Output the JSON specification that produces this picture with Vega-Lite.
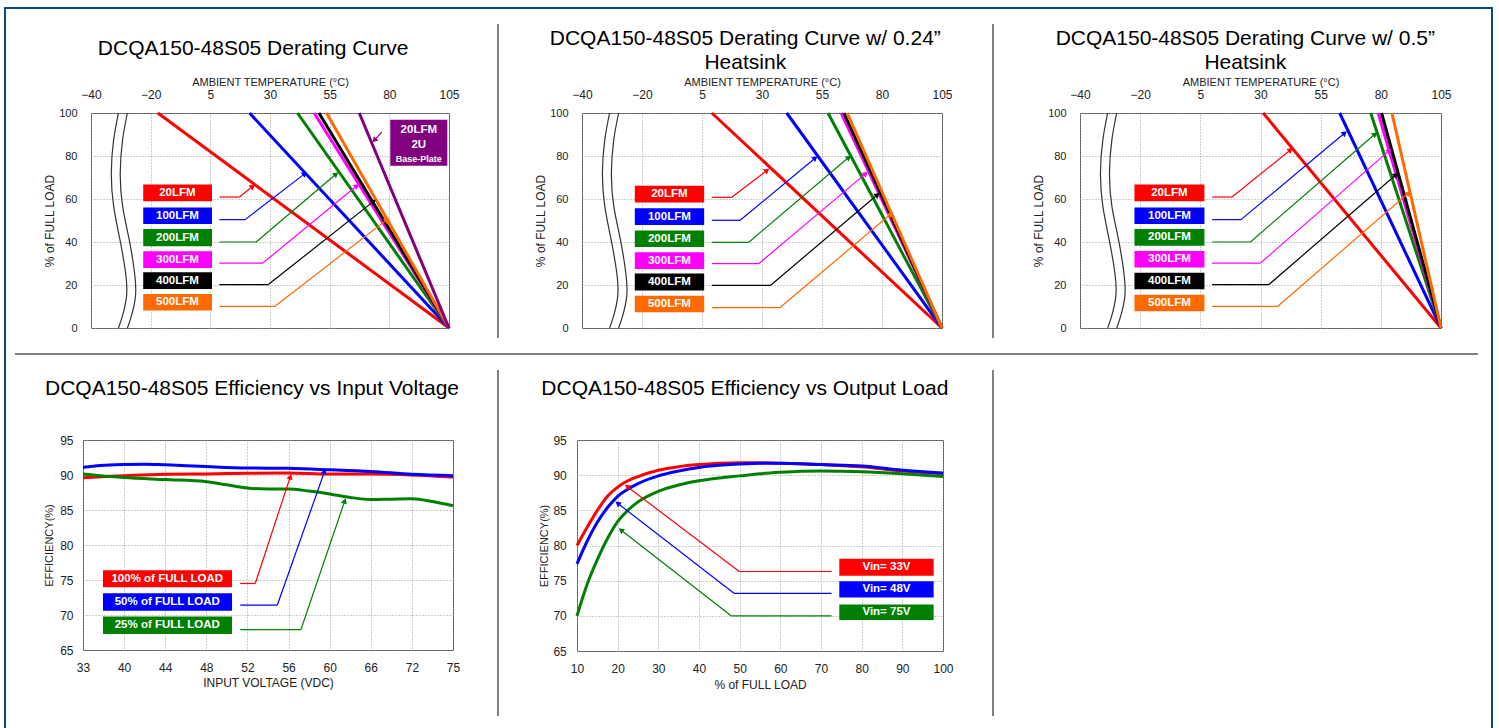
{
"$schema": "https://vega.github.io/schema/vega-lite/v6.json",
"padding": {"left": 4, "top": 7, "right": 0, "bottom": 0},
"background": "white",
"config": {
  "view": {"stroke": null},
  "concat": {"spacing": 0},
  "font": "Liberation Sans",
  "point": {"size": 0, "strokeWidth": 0},
  "title": {"font": "Liberation Sans", "fontSize": 21, "fontWeight": "normal", "color": "#000000", "lineHeight": 24, "anchor": "middle"},
  "axis": {"labelFont": "Liberation Sans", "titleFont": "Liberation Sans", "labelColor": "#222222", "titleColor": "#222222", "titleFontWeight": "normal", "domain": false, "ticks": false, "tickSize": 0, "grid": true, "gridColor": "#9a9a9a", "gridDash": [1, 2], "labelFlush": false, "labelOverlap": false},
  "text": {"font": "Liberation Sans"}
},
"datasets": {
  "brk": [
    {"part": "A", "x": -30.8, "x2": -27.8, "y": 100}, {"part": "A", "x": -32.4, "x2": -29.4, "y": 87.6}, {"part": "A", "x": -33.2, "x2": -30.2, "y": 72.1}, {"part": "A", "x": -32.4, "x2": -29.4, "y": 56.6}, {"part": "A", "x": -30.3, "x2": -27.2, "y": 41.1}, {"part": "A", "x": -28.4, "x2": -25.4, "y": 25.6}, {"part": "A", "x": -28.1, "x2": -25.1, "y": 14.7}, {"part": "A", "x": -29.5, "x2": -26.5, "y": 5.4}, {"part": "A", "x": -30.8, "x2": -27.8, "y": 0},
    {"part": "L", "x": -30.8, "y": 100}, {"part": "L", "x": -32.4, "y": 87.6}, {"part": "L", "x": -33.2, "y": 72.1}, {"part": "L", "x": -32.4, "y": 56.6}, {"part": "L", "x": -30.3, "y": 41.1}, {"part": "L", "x": -28.4, "y": 25.6}, {"part": "L", "x": -28.1, "y": 14.7}, {"part": "L", "x": -29.5, "y": 5.4}, {"part": "L", "x": -30.8, "y": 0},
    {"part": "R", "x": -27.8, "y": 100}, {"part": "R", "x": -29.4, "y": 87.6}, {"part": "R", "x": -30.2, "y": 72.1}, {"part": "R", "x": -29.4, "y": 56.6}, {"part": "R", "x": -27.2, "y": 41.1}, {"part": "R", "x": -25.4, "y": 25.6}, {"part": "R", "x": -25.1, "y": 14.7}, {"part": "R", "x": -26.5, "y": 5.4}, {"part": "R", "x": -27.8, "y": 0}
  ],
  "d1": [
    {"kind": "curve", "s": "20LFM", "x": -17, "y": 100}, {"kind": "curve", "s": "20LFM", "x": 105, "y": 0},
    {"kind": "curve", "s": "100LFM", "x": 21.4, "y": 100}, {"kind": "curve", "s": "100LFM", "x": 105, "y": 0},
    {"kind": "curve", "s": "200LFM", "x": 41.5, "y": 100}, {"kind": "curve", "s": "200LFM", "x": 105, "y": 0},
    {"kind": "curve", "s": "300LFM", "x": 48.5, "y": 100}, {"kind": "curve", "s": "300LFM", "x": 105, "y": 0},
    {"kind": "curve", "s": "400LFM", "x": 50.5, "y": 100}, {"kind": "curve", "s": "400LFM", "x": 105, "y": 0},
    {"kind": "curve", "s": "500LFM", "x": 53.7, "y": 100}, {"kind": "curve", "s": "500LFM", "x": 105, "y": 0},
    {"kind": "curve", "s": "BP", "x": 67.4, "y": 100}, {"kind": "curve", "s": "BP", "x": 105, "y": 0},
    {"kind": "box", "s": "20LFM", "x": -22.5, "x2": 5.7, "y": 58.9, "y2": 66.7},
    {"kind": "box", "s": "100LFM", "x": -22.5, "x2": 5.7, "y": 48.4, "y2": 56.1},
    {"kind": "box", "s": "200LFM", "x": -22.5, "x2": 5.7, "y": 38.0, "y2": 46.0},
    {"kind": "box", "s": "300LFM", "x": -22.5, "x2": 5.7, "y": 27.9, "y2": 35.7},
    {"kind": "box", "s": "400LFM", "x": -22.5, "x2": 5.7, "y": 18.1, "y2": 25.9},
    {"kind": "box", "s": "500LFM", "x": -22.5, "x2": 5.7, "y": 8.1, "y2": 15.8},
    {"kind": "box", "s": "BP", "x": 80.4, "x2": 104.3, "y": 75.5, "y2": 96.9},
    {"kind": "label", "s": "20LFM", "x": -8.8, "y": 62.8, "text": "20LFM"},
    {"kind": "label", "s": "100LFM", "x": -8.8, "y": 52.2, "text": "100LFM"},
    {"kind": "label", "s": "200LFM", "x": -8.8, "y": 42.0, "text": "200LFM"},
    {"kind": "label", "s": "300LFM", "x": -8.8, "y": 31.8, "text": "300LFM"},
    {"kind": "label", "s": "400LFM", "x": -8.8, "y": 22.0, "text": "400LFM"},
    {"kind": "label", "s": "500LFM", "x": -8.8, "y": 12.0, "text": "500LFM"},
    {"kind": "label", "s": "BP", "x": 92.35, "y": 92.2, "text": "20LFM"},
    {"kind": "label", "s": "BP", "x": 92.35, "y": 85.3, "text": "2U"},
    {"kind": "small", "s": "BP", "x": 92.35, "y": 78.6, "text": "Base-Plate"},
    {"kind": "lead", "s": "20LFM", "x": 8.8, "y": 60.9, "x2": 17.2, "y2": 60.9},
    {"kind": "tip", "s": "20LFM", "x": 22.8, "y": 65.9, "x2": 17.2, "y2": 60.9},
    {"kind": "lead", "s": "100LFM", "x": 8.8, "y": 50.4, "x2": 19.6, "y2": 50.4},
    {"kind": "tip", "s": "100LFM", "x": 44.6, "y": 71.8, "x2": 19.6, "y2": 50.4},
    {"kind": "lead", "s": "200LFM", "x": 8.8, "y": 40.0, "x2": 24.2, "y2": 40.0},
    {"kind": "tip", "s": "200LFM", "x": 57.7, "y": 71.6, "x2": 24.2, "y2": 40.0},
    {"kind": "lead", "s": "300LFM", "x": 8.8, "y": 30.2, "x2": 27.0, "y2": 30.2},
    {"kind": "tip", "s": "300LFM", "x": 66.4, "y": 66.2, "x2": 27.0, "y2": 30.2},
    {"kind": "lead", "s": "400LFM", "x": 8.8, "y": 20.2, "x2": 29.3, "y2": 20.2},
    {"kind": "tip", "s": "400LFM", "x": 73.4, "y": 58.9, "x2": 29.3, "y2": 20.2},
    {"kind": "lead", "s": "500LFM", "x": 8.8, "y": 10.1, "x2": 32.1, "y2": 10.1},
    {"kind": "tip", "s": "500LFM", "x": 79.0, "y": 50.4, "x2": 32.1, "y2": 10.1},
    {"kind": "tip", "s": "BP", "x": 73.7, "y": 87.3, "x2": 76.9, "y2": 91.2}
  ],
  "d2": [
    {"kind": "curve", "s": "20LFM", "x": 9.1, "y": 100}, {"kind": "curve", "s": "20LFM", "x": 105, "y": 0},
    {"kind": "curve", "s": "100LFM", "x": 40.3, "y": 100}, {"kind": "curve", "s": "100LFM", "x": 105, "y": 0},
    {"kind": "curve", "s": "200LFM", "x": 57.5, "y": 100}, {"kind": "curve", "s": "200LFM", "x": 105, "y": 0},
    {"kind": "curve", "s": "300LFM", "x": 63.0, "y": 100}, {"kind": "curve", "s": "300LFM", "x": 105, "y": 0},
    {"kind": "curve", "s": "400LFM", "x": 64.1, "y": 100}, {"kind": "curve", "s": "400LFM", "x": 105, "y": 0},
    {"kind": "curve", "s": "500LFM", "x": 65.5, "y": 100}, {"kind": "curve", "s": "500LFM", "x": 105, "y": 0},
    {"kind": "box", "s": "20LFM", "x": -22.4, "x2": 5.9, "y": 58.4, "y2": 66.2},
    {"kind": "box", "s": "100LFM", "x": -22.4, "x2": 5.9, "y": 47.9, "y2": 55.7},
    {"kind": "box", "s": "200LFM", "x": -22.4, "x2": 5.9, "y": 37.7, "y2": 45.4},
    {"kind": "box", "s": "300LFM", "x": -22.4, "x2": 5.9, "y": 27.4, "y2": 35.2},
    {"kind": "box", "s": "400LFM", "x": -22.4, "x2": 5.9, "y": 17.5, "y2": 25.3},
    {"kind": "box", "s": "500LFM", "x": -22.4, "x2": 5.9, "y": 7.3, "y2": 15.0},
    {"kind": "label", "s": "20LFM", "x": -8.6, "y": 62.3, "text": "20LFM"},
    {"kind": "label", "s": "100LFM", "x": -8.6, "y": 51.8, "text": "100LFM"},
    {"kind": "label", "s": "200LFM", "x": -8.6, "y": 41.6, "text": "200LFM"},
    {"kind": "label", "s": "300LFM", "x": -8.6, "y": 31.3, "text": "300LFM"},
    {"kind": "label", "s": "400LFM", "x": -8.6, "y": 21.4, "text": "400LFM"},
    {"kind": "label", "s": "500LFM", "x": -8.6, "y": 11.2, "text": "500LFM"},
    {"kind": "lead", "s": "20LFM", "x": 9.1, "y": 60.8, "x2": 17.4, "y2": 60.8},
    {"kind": "tip", "s": "20LFM", "x": 32.1, "y": 73.3, "x2": 17.4, "y2": 60.8},
    {"kind": "lead", "s": "100LFM", "x": 9.1, "y": 50.1, "x2": 20.9, "y2": 50.1},
    {"kind": "tip", "s": "100LFM", "x": 52.2, "y": 79.1, "x2": 20.9, "y2": 50.1},
    {"kind": "lead", "s": "200LFM", "x": 9.1, "y": 39.8, "x2": 24.4, "y2": 39.8},
    {"kind": "tip", "s": "200LFM", "x": 66.2, "y": 79.4, "x2": 24.4, "y2": 39.8},
    {"kind": "lead", "s": "300LFM", "x": 9.1, "y": 29.9, "x2": 28.6, "y2": 29.9},
    {"kind": "tip", "s": "300LFM", "x": 73.2, "y": 71.8, "x2": 28.6, "y2": 29.9},
    {"kind": "lead", "s": "400LFM", "x": 9.1, "y": 19.8, "x2": 33.5, "y2": 19.8},
    {"kind": "tip", "s": "400LFM", "x": 78.1, "y": 62.0, "x2": 33.5, "y2": 19.8},
    {"kind": "lead", "s": "500LFM", "x": 9.1, "y": 9.5, "x2": 37.5, "y2": 9.5},
    {"kind": "tip", "s": "500LFM", "x": 83.7, "y": 53.0, "x2": 37.5, "y2": 9.5}
  ],
  "d3": [
    {"kind": "curve", "s": "20LFM", "x": 31.1, "y": 100}, {"kind": "curve", "s": "20LFM", "x": 105, "y": 0},
    {"kind": "curve", "s": "100LFM", "x": 62.9, "y": 100}, {"kind": "curve", "s": "100LFM", "x": 105, "y": 0},
    {"kind": "curve", "s": "200LFM", "x": 75.8, "y": 100}, {"kind": "curve", "s": "200LFM", "x": 105, "y": 0},
    {"kind": "curve", "s": "300LFM", "x": 78.9, "y": 100}, {"kind": "curve", "s": "300LFM", "x": 105, "y": 0},
    {"kind": "curve", "s": "400LFM", "x": 80.3, "y": 100}, {"kind": "curve", "s": "400LFM", "x": 105, "y": 0},
    {"kind": "curve", "s": "500LFM", "x": 84.6, "y": 100}, {"kind": "curve", "s": "500LFM", "x": 105, "y": 0},
    {"kind": "box", "s": "20LFM", "x": -21.9, "x2": 6.7, "y": 58.9, "y2": 66.7},
    {"kind": "box", "s": "100LFM", "x": -21.9, "x2": 6.7, "y": 48.4, "y2": 56.1},
    {"kind": "box", "s": "200LFM", "x": -21.9, "x2": 6.7, "y": 38.3, "y2": 46.0},
    {"kind": "box", "s": "300LFM", "x": -21.9, "x2": 6.7, "y": 28.1, "y2": 35.8},
    {"kind": "box", "s": "400LFM", "x": -21.9, "x2": 6.7, "y": 18.0, "y2": 25.7},
    {"kind": "box", "s": "500LFM", "x": -21.9, "x2": 6.7, "y": 7.8, "y2": 15.5},
    {"kind": "label", "s": "20LFM", "x": -7.85, "y": 62.8, "text": "20LFM"},
    {"kind": "label", "s": "100LFM", "x": -7.85, "y": 52.2, "text": "100LFM"},
    {"kind": "label", "s": "200LFM", "x": -7.85, "y": 42.2, "text": "200LFM"},
    {"kind": "label", "s": "300LFM", "x": -7.85, "y": 31.9, "text": "300LFM"},
    {"kind": "label", "s": "400LFM", "x": -7.85, "y": 21.9, "text": "400LFM"},
    {"kind": "label", "s": "500LFM", "x": -7.85, "y": 11.6, "text": "500LFM"},
    {"kind": "lead", "s": "20LFM", "x": 9.9, "y": 60.9, "x2": 18.2, "y2": 60.9},
    {"kind": "tip", "s": "20LFM", "x": 42.5, "y": 82.9, "x2": 18.2, "y2": 60.9},
    {"kind": "lead", "s": "100LFM", "x": 9.9, "y": 50.4, "x2": 21.9, "y2": 50.4},
    {"kind": "tip", "s": "100LFM", "x": 65.0, "y": 90.7, "x2": 21.9, "y2": 50.4},
    {"kind": "lead", "s": "200LFM", "x": 9.9, "y": 40.0, "x2": 25.8, "y2": 40.0},
    {"kind": "tip", "s": "200LFM", "x": 77.6, "y": 90.2, "x2": 25.8, "y2": 40.0},
    {"kind": "lead", "s": "300LFM", "x": 9.9, "y": 30.2, "x2": 30.0, "y2": 30.2},
    {"kind": "tip", "s": "300LFM", "x": 83.5, "y": 82.5, "x2": 30.0, "y2": 30.2},
    {"kind": "lead", "s": "400LFM", "x": 9.9, "y": 20.2, "x2": 33.5, "y2": 20.2},
    {"kind": "tip", "s": "400LFM", "x": 86.3, "y": 71.3, "x2": 33.5, "y2": 20.2},
    {"kind": "lead", "s": "500LFM", "x": 9.9, "y": 10.1, "x2": 37.2, "y2": 10.1},
    {"kind": "tip", "s": "500LFM", "x": 91.5, "y": 62.8, "x2": 37.2, "y2": 10.1}
  ],
  "d4": [
    {"kind": "curve", "s": "100%", "x": 33, "y": 89.6}, {"kind": "curve", "s": "100%", "x": 36, "y": 89.75}, {"kind": "curve", "s": "100%", "x": 40, "y": 89.9}, {"kind": "curve", "s": "100%", "x": 44, "y": 90.1}, {"kind": "curve", "s": "100%", "x": 48, "y": 90.15}, {"kind": "curve", "s": "100%", "x": 52, "y": 90.25}, {"kind": "curve", "s": "100%", "x": 56, "y": 90.3}, {"kind": "curve", "s": "100%", "x": 60, "y": 90.15}, {"kind": "curve", "s": "100%", "x": 66, "y": 90.15}, {"kind": "curve", "s": "100%", "x": 72, "y": 90.0}, {"kind": "curve", "s": "100%", "x": 75, "y": 89.7},
    {"kind": "curve", "s": "50%", "x": 33, "y": 91.1}, {"kind": "curve", "s": "50%", "x": 36, "y": 91.35}, {"kind": "curve", "s": "50%", "x": 40, "y": 91.5}, {"kind": "curve", "s": "50%", "x": 42, "y": 91.55}, {"kind": "curve", "s": "50%", "x": 44, "y": 91.45}, {"kind": "curve", "s": "50%", "x": 48, "y": 91.2}, {"kind": "curve", "s": "50%", "x": 52, "y": 91.0}, {"kind": "curve", "s": "50%", "x": 56, "y": 90.95}, {"kind": "curve", "s": "50%", "x": 60, "y": 90.75}, {"kind": "curve", "s": "50%", "x": 66, "y": 90.5}, {"kind": "curve", "s": "50%", "x": 72, "y": 90.1}, {"kind": "curve", "s": "50%", "x": 75, "y": 89.9},
    {"kind": "curve", "s": "25%", "x": 33, "y": 90.15}, {"kind": "curve", "s": "25%", "x": 36, "y": 89.9}, {"kind": "curve", "s": "25%", "x": 40, "y": 89.65}, {"kind": "curve", "s": "25%", "x": 44, "y": 89.35}, {"kind": "curve", "s": "25%", "x": 48, "y": 89.05}, {"kind": "curve", "s": "25%", "x": 50, "y": 88.6}, {"kind": "curve", "s": "25%", "x": 52, "y": 88.15}, {"kind": "curve", "s": "25%", "x": 54, "y": 88.0}, {"kind": "curve", "s": "25%", "x": 56, "y": 88.0}, {"kind": "curve", "s": "25%", "x": 58, "y": 87.7}, {"kind": "curve", "s": "25%", "x": 60, "y": 87.3}, {"kind": "curve", "s": "25%", "x": 63, "y": 86.8}, {"kind": "curve", "s": "25%", "x": 66, "y": 86.5}, {"kind": "curve", "s": "25%", "x": 69, "y": 86.55}, {"kind": "curve", "s": "25%", "x": 72, "y": 86.6}, {"kind": "curve", "s": "25%", "x": 73.5, "y": 86.2}, {"kind": "curve", "s": "25%", "x": 75, "y": 85.6},
    {"kind": "box", "s": "100%", "x": 36.4, "x2": 50.5, "y": 73.95, "y2": 76.4},
    {"kind": "box", "s": "50%", "x": 36.4, "x2": 50.5, "y": 70.6, "y2": 73.1},
    {"kind": "box", "s": "25%", "x": 36.4, "x2": 50.5, "y": 67.3, "y2": 69.8},
    {"kind": "label", "s": "100%", "x": 44.2, "y": 75.2, "text": "100% of FULL LOAD"},
    {"kind": "label", "s": "50%", "x": 44.2, "y": 71.85, "text": "50% of FULL LOAD"},
    {"kind": "label", "s": "25%", "x": 44.2, "y": 68.55, "text": "25% of FULL LOAD"},
    {"kind": "lead", "s": "100%", "x": 51.3, "y": 74.5, "x2": 52.76, "y2": 74.5},
    {"kind": "tip", "s": "100%", "x": 56.17, "y": 89.76, "x2": 52.76, "y2": 74.5},
    {"kind": "lead", "s": "50%", "x": 51.3, "y": 71.4, "x2": 54.9, "y2": 71.4},
    {"kind": "tip", "s": "50%", "x": 59.5, "y": 90.5, "x2": 54.9, "y2": 71.4},
    {"kind": "lead", "s": "25%", "x": 51.3, "y": 67.9, "x2": 57.2, "y2": 67.9},
    {"kind": "tip", "s": "25%", "x": 62.2, "y": 86.3, "x2": 57.2, "y2": 67.9}
  ],
  "d5": [
    {"kind": "curve", "s": "33V", "x": 10, "y": 80.0}, {"kind": "curve", "s": "33V", "x": 12.5, "y": 82.6}, {"kind": "curve", "s": "33V", "x": 15, "y": 85.0}, {"kind": "curve", "s": "33V", "x": 17.5, "y": 87.0}, {"kind": "curve", "s": "33V", "x": 20, "y": 88.3}, {"kind": "curve", "s": "33V", "x": 22.5, "y": 89.2}, {"kind": "curve", "s": "33V", "x": 25, "y": 89.8}, {"kind": "curve", "s": "33V", "x": 30, "y": 90.7}, {"kind": "curve", "s": "33V", "x": 35, "y": 91.2}, {"kind": "curve", "s": "33V", "x": 40, "y": 91.5}, {"kind": "curve", "s": "33V", "x": 45, "y": 91.7}, {"kind": "curve", "s": "33V", "x": 50, "y": 91.75}, {"kind": "curve", "s": "33V", "x": 55, "y": 91.75}, {"kind": "curve", "s": "33V", "x": 60, "y": 91.7}, {"kind": "curve", "s": "33V", "x": 70, "y": 91.5}, {"kind": "curve", "s": "33V", "x": 80, "y": 91.2}, {"kind": "curve", "s": "33V", "x": 90, "y": 90.6}, {"kind": "curve", "s": "33V", "x": 100, "y": 90.2},
    {"kind": "curve", "s": "48V", "x": 10, "y": 77.4}, {"kind": "curve", "s": "48V", "x": 12.5, "y": 80.6}, {"kind": "curve", "s": "48V", "x": 15, "y": 83.3}, {"kind": "curve", "s": "48V", "x": 17.5, "y": 85.4}, {"kind": "curve", "s": "48V", "x": 20, "y": 87.0}, {"kind": "curve", "s": "48V", "x": 22.5, "y": 88.0}, {"kind": "curve", "s": "48V", "x": 25, "y": 88.8}, {"kind": "curve", "s": "48V", "x": 30, "y": 89.9}, {"kind": "curve", "s": "48V", "x": 35, "y": 90.6}, {"kind": "curve", "s": "48V", "x": 40, "y": 91.1}, {"kind": "curve", "s": "48V", "x": 45, "y": 91.4}, {"kind": "curve", "s": "48V", "x": 50, "y": 91.6}, {"kind": "curve", "s": "48V", "x": 55, "y": 91.7}, {"kind": "curve", "s": "48V", "x": 60, "y": 91.7}, {"kind": "curve", "s": "48V", "x": 70, "y": 91.5}, {"kind": "curve", "s": "48V", "x": 80, "y": 91.3}, {"kind": "curve", "s": "48V", "x": 90, "y": 90.7}, {"kind": "curve", "s": "48V", "x": 100, "y": 90.3},
    {"kind": "curve", "s": "75V", "x": 10, "y": 70.0}, {"kind": "curve", "s": "75V", "x": 12.5, "y": 74.5}, {"kind": "curve", "s": "75V", "x": 15, "y": 78.0}, {"kind": "curve", "s": "75V", "x": 17.5, "y": 81.0}, {"kind": "curve", "s": "75V", "x": 20, "y": 83.4}, {"kind": "curve", "s": "75V", "x": 22.5, "y": 85.0}, {"kind": "curve", "s": "75V", "x": 25, "y": 86.2}, {"kind": "curve", "s": "75V", "x": 30, "y": 87.7}, {"kind": "curve", "s": "75V", "x": 35, "y": 88.6}, {"kind": "curve", "s": "75V", "x": 40, "y": 89.2}, {"kind": "curve", "s": "75V", "x": 45, "y": 89.6}, {"kind": "curve", "s": "75V", "x": 50, "y": 89.9}, {"kind": "curve", "s": "75V", "x": 55, "y": 90.2}, {"kind": "curve", "s": "75V", "x": 60, "y": 90.4}, {"kind": "curve", "s": "75V", "x": 65, "y": 90.55}, {"kind": "curve", "s": "75V", "x": 70, "y": 90.6}, {"kind": "curve", "s": "75V", "x": 80, "y": 90.5}, {"kind": "curve", "s": "75V", "x": 90, "y": 90.2}, {"kind": "curve", "s": "75V", "x": 100, "y": 89.8},
    {"kind": "box", "s": "33V", "x": 74.5, "x2": 97.7, "y": 75.7, "y2": 78.1},
    {"kind": "box", "s": "48V", "x": 74.5, "x2": 97.7, "y": 72.6, "y2": 74.9},
    {"kind": "box", "s": "75V", "x": 74.5, "x2": 97.7, "y": 69.4, "y2": 71.6},
    {"kind": "label", "s": "33V", "x": 86.1, "y": 76.9, "text": "Vin= 33V"},
    {"kind": "label", "s": "48V", "x": 86.1, "y": 73.75, "text": "Vin= 48V"},
    {"kind": "label", "s": "75V", "x": 86.1, "y": 70.5, "text": "Vin= 75V"},
    {"kind": "lead", "s": "33V", "x": 72.6, "y": 76.3, "x2": 49.9, "y2": 76.3},
    {"kind": "tip", "s": "33V", "x": 22.3, "y": 88.4, "x2": 49.9, "y2": 76.3},
    {"kind": "lead", "s": "48V", "x": 72.6, "y": 73.2, "x2": 48.6, "y2": 73.2},
    {"kind": "tip", "s": "48V", "x": 20.0, "y": 86.0, "x2": 48.6, "y2": 73.2},
    {"kind": "lead", "s": "75V", "x": 72.6, "y": 70.0, "x2": 47.9, "y2": 70.0},
    {"kind": "tip", "s": "75V", "x": 20.8, "y": 82.2, "x2": 47.9, "y2": 70.0}
  ]
},
"spacing": 0,
"vconcat": [
  {"width": 1489, "height": 2, "data": {"values": [{}]}, "mark": {"type": "point", "opacity": 0, "size": 0, "strokeWidth": 0}, "encoding": {}, "view": {"fill": "#0b4a7d", "stroke": null}},
  {"spacing": 0, "hconcat": [
    {"width": 2, "height": 719, "data": {"values": [{}]}, "mark": {"type": "point", "opacity": 0, "size": 0, "strokeWidth": 0}, "encoding": {}, "view": {"fill": "#0b4a7d", "stroke": null}},
    {"spacing": 0, "vconcat": [
      {"width": 1, "height": 15, "data": {"values": [{}]}, "mark": {"type": "point", "opacity": 0, "size": 0, "strokeWidth": 0}, "encoding": {}},
      {"spacing": 0, "hconcat": [
        {"width": 37, "height": 1, "data": {"values": [{}]}, "mark": {"type": "point", "opacity": 0, "size": 0, "strokeWidth": 0}, "encoding": {}},
        {"spacing": 0, "vconcat": [
          {"width": 1, "height": 13, "data": {"values": [{}]}, "mark": {"type": "point", "opacity": 0, "size": 0, "strokeWidth": 0}, "encoding": {}},
          {"width": 358, "height": 215, "view": {"stroke": "#555555"},
           "title": {"text": "DCQA150-48S05 Derating Curve", "dx": -16.9, "offset": 17},
           "data": {"name": "d1"},
           "encoding": {
             "x": {"field": "x", "type": "quantitative", "scale": {"domain": [-40, -20, 105], "range": [0, 59.67, 358], "nice": false, "zero": false}, "axis": {"orient": "top", "values": [-40, -20, 5, 30, 55, 80, 105], "title": "AMBIENT TEMPERATURE (°C)", "labelPadding": 12, "titlePadding": 1, "labelFontSize": 12, "titleFontSize": 11}},
             "y": {"field": "y", "type": "quantitative", "scale": {"domain": [0, 100], "nice": false}, "axis": {"values": [0, 20, 40, 60, 80, 100], "title": "% of FULL LOAD", "labelPadding": 14, "titlePadding": 2, "labelFontSize": 11, "titleFontSize": 12}},
             "color": {"field": "s", "type": "nominal", "scale": {"domain": ["20LFM", "100LFM", "200LFM", "300LFM", "400LFM", "500LFM", "BP", "100%", "50%", "25%", "33V", "48V", "75V"], "range": ["#ff0000", "#0000ff", "#008000", "#ff00ff", "#000000", "#ff6a00", "#800080", "#ff0000", "#0000ff", "#008000", "#ff0000", "#0000ff", "#008000"]}, "legend": null}
           },
           "layer": [
             {"transform": [{"filter": "datum.kind == 'curve'"}], "mark": {"type": "line", "strokeWidth": 3}},
             {"data": {"name": "brk"}, "transform": [{"filter": "datum.part == 'A'"}], "mark": {"type": "area", "orient": "horizontal", "interpolate": "natural", "opacity": 1}, "encoding": {"x2": {"field": "x2"}, "order": {"field": "y", "type": "quantitative"}, "color": {"value": "white"}}},
             {"data": {"name": "brk"}, "transform": [{"filter": "datum.part != 'A'"}], "mark": {"type": "line", "interpolate": "natural", "strokeWidth": 1.2}, "encoding": {"detail": {"field": "part"}, "order": {"field": "y", "type": "quantitative"}, "color": {"value": "#333333"}}},
             {"transform": [{"filter": "datum.kind == 'lead' || datum.kind == 'tip'"}], "mark": {"type": "rule", "strokeWidth": 1.2}, "encoding": {"x2": {"field": "x2"}, "y2": {"field": "y2"}}},
             {"transform": [{"filter": "datum.kind == 'tip'"}, {"calculate": "atan2((datum.x - datum.x2) * 2.39, (datum.y - datum.y2) * 2.15) * 180 / PI", "as": "ang"}], "mark": {"type": "point", "shape": "triangle-up", "filled": true, "size": 40, "opacity": 1}, "encoding": {"angle": {"field": "ang", "type": "quantitative", "scale": null}}},
             {"transform": [{"filter": "datum.kind == 'box'"}], "mark": {"type": "rect"}, "encoding": {"x2": {"field": "x2"}, "y2": {"field": "y2"}}},
             {"transform": [{"filter": "datum.kind == 'label'"}], "mark": {"type": "text", "fontWeight": "bold", "fontSize": 11.5, "align": "center", "baseline": "middle"}, "encoding": {"text": {"field": "text"}, "color": {"value": "white"}}},
             {"transform": [{"filter": "datum.kind == 'small'"}], "mark": {"type": "text", "fontWeight": "bold", "fontSize": 9, "align": "center", "baseline": "middle"}, "encoding": {"text": {"field": "text"}, "color": {"value": "white"}}}
           ]
          }
        ]},
        {"width": 37, "height": 1, "data": {"values": [{}]}, "mark": {"type": "point", "opacity": 0, "size": 0, "strokeWidth": 0}, "encoding": {}},
        {"width": 2, "height": 314, "data": {"values": [{}]}, "mark": {"type": "point", "opacity": 0, "size": 0, "strokeWidth": 0}, "encoding": {}, "view": {"fill": "#808080", "stroke": null}},
        {"width": 35, "height": 1, "data": {"values": [{}]}, "mark": {"type": "point", "opacity": 0, "size": 0, "strokeWidth": 0}, "encoding": {}},
        {"spacing": 0, "vconcat": [
          {"width": 1, "height": 3, "data": {"values": [{}]}, "mark": {"type": "point", "opacity": 0, "size": 0, "strokeWidth": 0}, "encoding": {}},
          {"width": 360, "height": 215, "view": {"stroke": "#555555"},
           "title": {"text": ["DCQA150-48S05 Derating Curve w/ 0.24\u201d", "Heatsink"], "dx": -16.7, "offset": 3},
           "data": {"name": "d2"},
           "encoding": {
             "x": {"field": "x", "type": "quantitative", "scale": {"domain": [-40, -20, 105], "range": [0, 60, 360], "nice": false, "zero": false}, "axis": {"orient": "top", "values": [-40, -20, 5, 30, 55, 80, 105], "title": "AMBIENT TEMPERATURE (°C)", "labelPadding": 12, "titlePadding": 1, "labelFontSize": 12, "titleFontSize": 11}},
             "y": {"field": "y", "type": "quantitative", "scale": {"domain": [0, 100], "nice": false}, "axis": {"values": [0, 20, 40, 60, 80, 100], "title": "% of FULL LOAD", "labelPadding": 14, "titlePadding": 2, "labelFontSize": 11, "titleFontSize": 12}},
             "color": {"field": "s", "type": "nominal", "scale": {"domain": ["20LFM", "100LFM", "200LFM", "300LFM", "400LFM", "500LFM", "BP", "100%", "50%", "25%", "33V", "48V", "75V"], "range": ["#ff0000", "#0000ff", "#008000", "#ff00ff", "#000000", "#ff6a00", "#800080", "#ff0000", "#0000ff", "#008000", "#ff0000", "#0000ff", "#008000"]}, "legend": null}
           },
           "layer": [
             {"transform": [{"filter": "datum.kind == 'curve'"}], "mark": {"type": "line", "strokeWidth": 3}},
             {"data": {"name": "brk"}, "transform": [{"filter": "datum.part == 'A'"}], "mark": {"type": "area", "orient": "horizontal", "interpolate": "natural", "opacity": 1}, "encoding": {"x2": {"field": "x2"}, "order": {"field": "y", "type": "quantitative"}, "color": {"value": "white"}}},
             {"data": {"name": "brk"}, "transform": [{"filter": "datum.part != 'A'"}], "mark": {"type": "line", "interpolate": "natural", "strokeWidth": 1.2}, "encoding": {"detail": {"field": "part"}, "order": {"field": "y", "type": "quantitative"}, "color": {"value": "#333333"}}},
             {"transform": [{"filter": "datum.kind == 'lead' || datum.kind == 'tip'"}], "mark": {"type": "rule", "strokeWidth": 1.2}, "encoding": {"x2": {"field": "x2"}, "y2": {"field": "y2"}}},
             {"transform": [{"filter": "datum.kind == 'tip'"}, {"calculate": "atan2((datum.x - datum.x2) * 2.4, (datum.y - datum.y2) * 2.15) * 180 / PI", "as": "ang"}], "mark": {"type": "point", "shape": "triangle-up", "filled": true, "size": 40, "opacity": 1}, "encoding": {"angle": {"field": "ang", "type": "quantitative", "scale": null}}},
             {"transform": [{"filter": "datum.kind == 'box'"}], "mark": {"type": "rect"}, "encoding": {"x2": {"field": "x2"}, "y2": {"field": "y2"}}},
             {"transform": [{"filter": "datum.kind == 'label'"}], "mark": {"type": "text", "fontWeight": "bold", "fontSize": 11.5, "align": "center", "baseline": "middle"}, "encoding": {"text": {"field": "text"}, "color": {"value": "white"}}}
           ]
          }
        ]},
        {"width": 38.3, "height": 1, "data": {"values": [{}]}, "mark": {"type": "point", "opacity": 0, "size": 0, "strokeWidth": 0}, "encoding": {}},
        {"width": 2, "height": 314, "data": {"values": [{}]}, "mark": {"type": "point", "opacity": 0, "size": 0, "strokeWidth": 0}, "encoding": {}, "view": {"fill": "#808080", "stroke": null}},
        {"width": 37.4, "height": 1, "data": {"values": [{}]}, "mark": {"type": "point", "opacity": 0, "size": 0, "strokeWidth": 0}, "encoding": {}},
        {"spacing": 0, "vconcat": [
          {"width": 1, "height": 3, "data": {"values": [{}]}, "mark": {"type": "point", "opacity": 0, "size": 0, "strokeWidth": 0}, "encoding": {}},
          {"width": 361, "height": 215, "view": {"stroke": "#555555"},
           "title": {"text": ["DCQA150-48S05 Derating Curve w/ 0.5\u201d", "Heatsink"], "dx": -15.2, "offset": 3},
           "data": {"name": "d3"},
           "encoding": {
             "x": {"field": "x", "type": "quantitative", "scale": {"domain": [-40, -20, 105], "range": [0, 60.17, 361], "nice": false, "zero": false}, "axis": {"orient": "top", "values": [-40, -20, 5, 30, 55, 80, 105], "title": "AMBIENT TEMPERATURE (°C)", "labelPadding": 12, "titlePadding": 1, "labelFontSize": 12, "titleFontSize": 11}},
             "y": {"field": "y", "type": "quantitative", "scale": {"domain": [0, 100], "nice": false}, "axis": {"values": [0, 20, 40, 60, 80, 100], "title": "% of FULL LOAD", "labelPadding": 14, "titlePadding": 2, "labelFontSize": 11, "titleFontSize": 12}},
             "color": {"field": "s", "type": "nominal", "scale": {"domain": ["20LFM", "100LFM", "200LFM", "300LFM", "400LFM", "500LFM", "BP", "100%", "50%", "25%", "33V", "48V", "75V"], "range": ["#ff0000", "#0000ff", "#008000", "#ff00ff", "#000000", "#ff6a00", "#800080", "#ff0000", "#0000ff", "#008000", "#ff0000", "#0000ff", "#008000"]}, "legend": null}
           },
           "layer": [
             {"transform": [{"filter": "datum.kind == 'curve'"}], "mark": {"type": "line", "strokeWidth": 3}},
             {"data": {"name": "brk"}, "transform": [{"filter": "datum.part == 'A'"}], "mark": {"type": "area", "orient": "horizontal", "interpolate": "natural", "opacity": 1}, "encoding": {"x2": {"field": "x2"}, "order": {"field": "y", "type": "quantitative"}, "color": {"value": "white"}}},
             {"data": {"name": "brk"}, "transform": [{"filter": "datum.part != 'A'"}], "mark": {"type": "line", "interpolate": "natural", "strokeWidth": 1.2}, "encoding": {"detail": {"field": "part"}, "order": {"field": "y", "type": "quantitative"}, "color": {"value": "#333333"}}},
             {"transform": [{"filter": "datum.kind == 'lead' || datum.kind == 'tip'"}], "mark": {"type": "rule", "strokeWidth": 1.2}, "encoding": {"x2": {"field": "x2"}, "y2": {"field": "y2"}}},
             {"transform": [{"filter": "datum.kind == 'tip'"}, {"calculate": "atan2((datum.x - datum.x2) * 2.41, (datum.y - datum.y2) * 2.15) * 180 / PI", "as": "ang"}], "mark": {"type": "point", "shape": "triangle-up", "filled": true, "size": 40, "opacity": 1}, "encoding": {"angle": {"field": "ang", "type": "quantitative", "scale": null}}},
             {"transform": [{"filter": "datum.kind == 'box'"}], "mark": {"type": "rect"}, "encoding": {"x2": {"field": "x2"}, "y2": {"field": "y2"}}},
             {"transform": [{"filter": "datum.kind == 'label'"}], "mark": {"type": "text", "fontWeight": "bold", "fontSize": 11.5, "align": "center", "baseline": "middle"}, "encoding": {"text": {"field": "text"}, "color": {"value": "white"}}}
           ]
          }
        ]}
      ]},
      {"width": 1, "height": 15, "data": {"values": [{}]}, "mark": {"type": "point", "opacity": 0, "size": 0, "strokeWidth": 0}, "encoding": {}},
      {"spacing": 0, "hconcat": [
        {"width": 9, "height": 2, "data": {"values": [{}]}, "mark": {"type": "point", "opacity": 0, "size": 0, "strokeWidth": 0}, "encoding": {}},
        {"width": 1463, "height": 2, "data": {"values": [{}]}, "mark": {"type": "point", "opacity": 0, "size": 0, "strokeWidth": 0}, "encoding": {}, "view": {"fill": "#808080", "stroke": null}},
        {"width": 13, "height": 2, "data": {"values": [{}]}, "mark": {"type": "point", "opacity": 0, "size": 0, "strokeWidth": 0}, "encoding": {}}
      ]},
      {"width": 1, "height": 15, "data": {"values": [{}]}, "mark": {"type": "point", "opacity": 0, "size": 0, "strokeWidth": 0}, "encoding": {}},
      {"spacing": 0, "hconcat": [
        {"width": 36.3, "height": 1, "data": {"values": [{}]}, "mark": {"type": "point", "opacity": 0, "size": 0, "strokeWidth": 0}, "encoding": {}},
        {"spacing": 0, "vconcat": [
          {"width": 1, "height": 7, "data": {"values": [{}]}, "mark": {"type": "point", "opacity": 0, "size": 0, "strokeWidth": 0}, "encoding": {}},
          {"width": 370, "height": 210, "view": {"stroke": "#555555"},
           "title": {"text": "DCQA150-48S05 Efficiency vs Input Voltage", "dx": -16, "offset": 35},
           "data": {"name": "d4"},
           "encoding": {
             "x": {"field": "x", "type": "quantitative", "scale": {"domain": [33, 40, 44, 48, 52, 56, 60, 66, 72, 75], "range": [0, 41.11, 82.22, 123.33, 164.44, 205.56, 246.67, 287.78, 328.89, 370], "nice": false, "zero": false}, "axis": {"values": [33, 40, 44, 48, 52, 56, 60, 66, 72, 75], "title": "INPUT VOLTAGE (VDC)", "labelPadding": 12, "titlePadding": 4, "labelFontSize": 12, "titleFontSize": 12}},
             "y": {"field": "y", "type": "quantitative", "scale": {"domain": [65, 95], "nice": false, "zero": false}, "axis": {"values": [65, 70, 75, 80, 85, 90, 95], "title": "EFFICIENCY(%)", "labelPadding": 10, "titlePadding": 5, "labelFontSize": 12, "titleFontSize": 11}},
             "color": {"field": "s", "type": "nominal", "scale": {"domain": ["20LFM", "100LFM", "200LFM", "300LFM", "400LFM", "500LFM", "BP", "100%", "50%", "25%", "33V", "48V", "75V"], "range": ["#ff0000", "#0000ff", "#008000", "#ff00ff", "#000000", "#ff6a00", "#800080", "#ff0000", "#0000ff", "#008000", "#ff0000", "#0000ff", "#008000"]}, "legend": null}
           },
           "layer": [
             {"transform": [{"filter": "datum.kind == 'curve'"}], "mark": {"type": "line", "strokeWidth": 3, "interpolate": "monotone"}},
             {"transform": [{"filter": "datum.kind == 'lead' || datum.kind == 'tip'"}], "mark": {"type": "rule", "strokeWidth": 1.2}, "encoding": {"x2": {"field": "x2"}, "y2": {"field": "y2"}}},
             {"transform": [{"filter": "datum.kind == 'tip'"}, {"calculate": "atan2((datum.x - datum.x2) * 9.5, (datum.y - datum.y2) * 7.0) * 180 / PI", "as": "ang"}], "mark": {"type": "point", "shape": "triangle-up", "filled": true, "size": 40, "opacity": 1}, "encoding": {"angle": {"field": "ang", "type": "quantitative", "scale": null}}},
             {"transform": [{"filter": "datum.kind == 'box'"}], "mark": {"type": "rect"}, "encoding": {"x2": {"field": "x2"}, "y2": {"field": "y2"}}},
             {"transform": [{"filter": "datum.kind == 'label'"}], "mark": {"type": "text", "fontWeight": "bold", "fontSize": 11.5, "align": "center", "baseline": "middle"}, "encoding": {"text": {"field": "text"}, "color": {"value": "white"}}}
           ]
          }
        ]},
        {"width": 35.7, "height": 1, "data": {"values": [{}]}, "mark": {"type": "point", "opacity": 0, "size": 0, "strokeWidth": 0}, "encoding": {}},
        {"width": 2, "height": 346, "data": {"values": [{}]}, "mark": {"type": "point", "opacity": 0, "size": 0, "strokeWidth": 0}, "encoding": {}, "view": {"fill": "#808080", "stroke": null}},
        {"width": 37.6, "height": 1, "data": {"values": [{}]}, "mark": {"type": "point", "opacity": 0, "size": 0, "strokeWidth": 0}, "encoding": {}},
        {"spacing": 0, "vconcat": [
          {"width": 1, "height": 7, "data": {"values": [{}]}, "mark": {"type": "point", "opacity": 0, "size": 0, "strokeWidth": 0}, "encoding": {}},
          {"width": 366, "height": 211, "view": {"stroke": "#555555"},
           "title": {"text": "DCQA150-48S05 Efficiency vs Output Load", "dx": -15.2, "offset": 35},
           "data": {"name": "d5"},
           "encoding": {
             "x": {"field": "x", "type": "quantitative", "scale": {"domain": [10, 100], "nice": false, "zero": false}, "axis": {"values": [10, 20, 30, 40, 50, 60, 70, 80, 90, 100], "title": "% of FULL LOAD", "labelPadding": 12, "titlePadding": 5, "labelFontSize": 12, "titleFontSize": 12}},
             "y": {"field": "y", "type": "quantitative", "scale": {"domain": [65, 95], "nice": false, "zero": false}, "axis": {"values": [65, 70, 75, 80, 85, 90, 95], "title": "EFFICIENCY(%)", "labelPadding": 10.7, "titlePadding": 3.7, "labelFontSize": 12, "titleFontSize": 11}},
             "color": {"field": "s", "type": "nominal", "scale": {"domain": ["20LFM", "100LFM", "200LFM", "300LFM", "400LFM", "500LFM", "BP", "100%", "50%", "25%", "33V", "48V", "75V"], "range": ["#ff0000", "#0000ff", "#008000", "#ff00ff", "#000000", "#ff6a00", "#800080", "#ff0000", "#0000ff", "#008000", "#ff0000", "#0000ff", "#008000"]}, "legend": null}
           },
           "layer": [
             {"transform": [{"filter": "datum.kind == 'curve'"}], "mark": {"type": "line", "strokeWidth": 3, "interpolate": "monotone"}},
             {"transform": [{"filter": "datum.kind == 'lead' || datum.kind == 'tip'"}], "mark": {"type": "rule", "strokeWidth": 1.2}, "encoding": {"x2": {"field": "x2"}, "y2": {"field": "y2"}}},
             {"transform": [{"filter": "datum.kind == 'tip'"}, {"calculate": "atan2((datum.x - datum.x2) * 4.07, (datum.y - datum.y2) * 7.03) * 180 / PI", "as": "ang"}], "mark": {"type": "point", "shape": "triangle-up", "filled": true, "size": 40, "opacity": 1}, "encoding": {"angle": {"field": "ang", "type": "quantitative", "scale": null}}},
             {"transform": [{"filter": "datum.kind == 'box'"}], "mark": {"type": "rect"}, "encoding": {"x2": {"field": "x2"}, "y2": {"field": "y2"}}},
             {"transform": [{"filter": "datum.kind == 'label'"}], "mark": {"type": "text", "fontWeight": "bold", "fontSize": 11.5, "align": "center", "baseline": "middle"}, "encoding": {"text": {"field": "text"}, "color": {"value": "white"}}}
           ]
          }
        ]},
        {"width": 37.3, "height": 1, "data": {"values": [{}]}, "mark": {"type": "point", "opacity": 0, "size": 0, "strokeWidth": 0}, "encoding": {}},
        {"width": 2, "height": 346, "data": {"values": [{}]}, "mark": {"type": "point", "opacity": 0, "size": 0, "strokeWidth": 0}, "encoding": {}, "view": {"fill": "#808080", "stroke": null}}
      ]}
    ]},
    {"width": 2, "height": 719, "data": {"values": [{}]}, "mark": {"type": "point", "opacity": 0, "size": 0, "strokeWidth": 0}, "encoding": {}, "view": {"fill": "#0b4a7d", "stroke": null}}
  ]}
]
}
